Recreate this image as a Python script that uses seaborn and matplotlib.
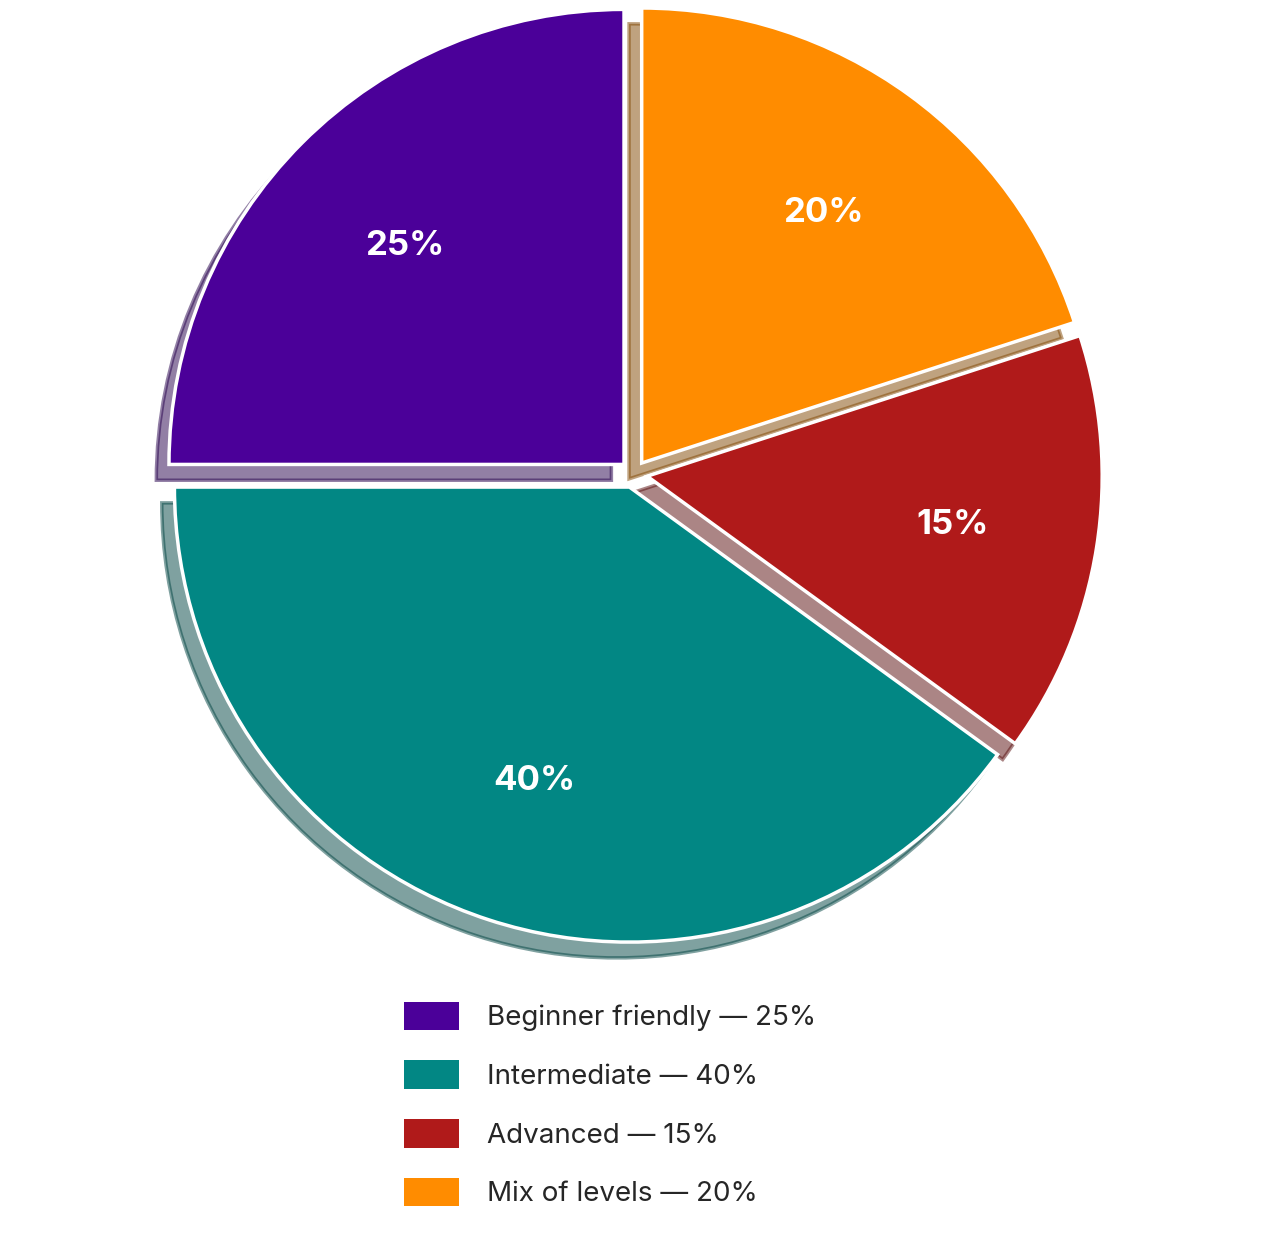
import matplotlib
matplotlib.use("Agg")
import matplotlib.pyplot as plt
import seaborn as sns
from matplotlib.patches import Patch

sns.set_theme(style="white")
plt.rcParams['font.family'] = ['Inter', 'DejaVu Sans']

categories = ["Beginner friendly", "Intermediate", "Advanced", "Mix of levels"]
values = [25, 40, 15, 20]
colors = ["#4B0099", "#028784", "#B01A1A", "#FF8C00"]

fig = plt.figure(figsize=(12.75, 12.33), dpi=100)
ax = fig.add_axes([0.122, 0.228, 0.75, 0.775])
wedges, texts, autotexts = ax.pie(
    values, colors=colors, startangle=90, counterclock=True,
    explode=[0.03] * 4, shadow={'ox': -0.02, 'oy': -0.025, 'shade': 0.5},
    autopct='%d%%', pctdistance=0.68,
    wedgeprops=dict(edgecolor='white', linewidth=2.5),
    textprops=dict(color='white', fontsize=25, fontweight='bold'))
ax.set_xlim(-1.05, 1.05)
ax.set_ylim(-1.05, 1.05)
ax.set_aspect('equal')

handles = [Patch(facecolor=c, edgecolor='none') for c in colors]
labels = [f"{c} — {v}%" for c, v in zip(categories, values)]
fig.legend(handles, labels, loc='upper left', bbox_to_anchor=(0.297, 0.208),
           frameon=False, fontsize=20, handlelength=2.0, handleheight=1.2,
           labelspacing=1.05, handletextpad=1.0)
fig.savefig("out.png", dpi=100, facecolor='white')
